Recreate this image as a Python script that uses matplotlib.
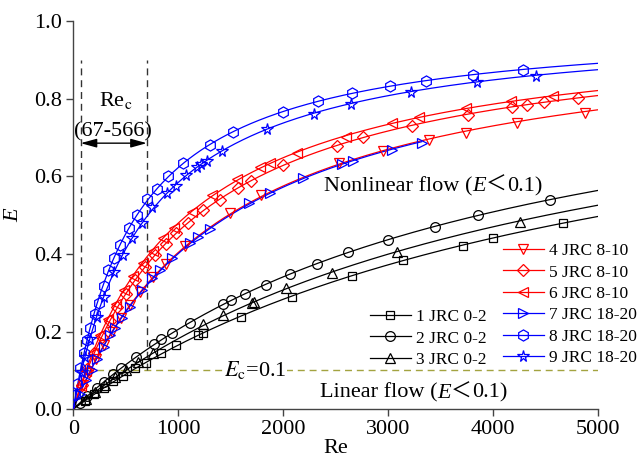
import numpy as np
import matplotlib
matplotlib.use("Agg")
import matplotlib.pyplot as plt
from matplotlib.lines import Line2D
from matplotlib.offsetbox import TextArea, HPacker, AnnotationBbox

# ---------------- measured data (Re, E) ----------------
re1 = [110, 200, 290, 380, 470, 590, 691, 834, 983, 1190, 1231, 1594, 2080, 2652, 3144, 3716, 3996, 4663]
e1 = [0.021, 0.038, 0.055, 0.071, 0.085, 0.105, 0.120, 0.145, 0.164, 0.191, 0.195, 0.238, 0.290, 0.343, 0.385, 0.421, 0.440, 0.481]

re2 = [60, 130, 221, 291, 380, 453, 593, 770, 840, 936, 1110, 1422, 1498, 1632, 1835, 2060, 2318, 2620, 3000, 3446, 3859, 4542]
e2 = [0.015, 0.033, 0.055, 0.070, 0.090, 0.105, 0.135, 0.167, 0.180, 0.195, 0.223, 0.270, 0.281, 0.296, 0.320, 0.348, 0.374, 0.404, 0.437, 0.470, 0.501, 0.539]

re3 = [120, 210, 300, 400, 500, 620, 760, 1237, 1428, 1700, 1721, 2023, 2461, 3087, 4257]
e3 = [0.026, 0.045, 0.063, 0.082, 0.100, 0.121, 0.144, 0.219, 0.243, 0.274, 0.277, 0.311, 0.350, 0.406, 0.483]

re4 = [95, 150, 215, 290, 370, 450, 540, 640, 760, 880, 1063, 1492, 1785, 2534, 2947, 3392, 3742, 4225, 4876]
e4 = [0.062, 0.094, 0.128, 0.166, 0.200, 0.234, 0.268, 0.302, 0.340, 0.374, 0.420, 0.505, 0.552, 0.634, 0.666, 0.694, 0.713, 0.737, 0.765]

re5 = [80, 135, 200, 270, 345, 420, 500, 590, 680, 780, 880, 980, 1090, 1237, 1397, 1571, 1689, 1994, 2509, 2763, 3224, 3764, 4177, 4327, 4485, 4812]
e5 = [0.063, 0.103, 0.145, 0.186, 0.226, 0.262, 0.298, 0.333, 0.366, 0.398, 0.427, 0.454, 0.480, 0.514, 0.539, 0.570, 0.589, 0.630, 0.679, 0.701, 0.730, 0.759, 0.779, 0.785, 0.793, 0.802]

re6 = [70, 120, 185, 255, 330, 405, 485, 570, 660, 755, 855, 960, 1127, 1317, 1556, 1778, 1873, 2128, 2598, 3033, 3297, 3742, 4168, 4574]
e6 = [0.060, 0.099, 0.145, 0.190, 0.232, 0.271, 0.308, 0.343, 0.377, 0.409, 0.440, 0.468, 0.509, 0.552, 0.593, 0.625, 0.634, 0.660, 0.703, 0.737, 0.753, 0.778, 0.796, 0.808]

re7 = [65, 120, 176, 224, 288, 351, 399, 462, 542, 653, 748, 828, 939, 1111, 1190, 1301, 1676, 1873, 2191, 2560, 2667, 3033, 3319]
e7 = [0.040, 0.075, 0.100, 0.128, 0.161, 0.191, 0.208, 0.234, 0.262, 0.308, 0.337, 0.359, 0.389, 0.428, 0.445, 0.464, 0.531, 0.557, 0.595, 0.632, 0.641, 0.668, 0.687]

re8 = [17, 33, 65, 97, 129, 160, 208, 240, 288, 335, 383, 446, 526, 605, 704, 793, 904, 1041, 1301, 1518, 2000, 2328, 2652, 3020, 3361, 3806, 4283]
e8 = [0.035, 0.065, 0.105, 0.145, 0.178, 0.208, 0.245, 0.273, 0.318, 0.359, 0.389, 0.423, 0.466, 0.500, 0.541, 0.567, 0.601, 0.634, 0.681, 0.716, 0.767, 0.795, 0.816, 0.834, 0.847, 0.863, 0.876]

re9 = [81, 112, 160, 224, 288, 383, 478, 558, 653, 748, 888, 977, 1075, 1174, 1220, 1270, 1420, 1842, 2293, 2645, 3217, 3843, 4406]
e9 = [0.095, 0.135, 0.180, 0.238, 0.290, 0.354, 0.397, 0.440, 0.479, 0.522, 0.557, 0.576, 0.604, 0.625, 0.632, 0.641, 0.665, 0.722, 0.761, 0.787, 0.819, 0.845, 0.860]

labels = ["1 JRC 0-2", "2 JRC 0-2", "3 JRC 0-2",
          "4 JRC 8-10", "5 JRC 8-10", "6 JRC 8-10",
          "7 JRC 18-20", "8 JRC 18-20", "9 JRC 18-20"]

x_ticks = [0, 1000, 2000, 3000, 4000, 5000]
y_ticks = [0.0, 0.2, 0.4, 0.6, 0.8, 1.0]
e_critical = 0.1
rec_lines = [70, 700]

# ---------------- styling ----------------
plt.rcParams["font.family"] = ["Liberation Serif", "DejaVu Serif"]
plt.rcParams["mathtext.fontset"] = "stix"

series = [(re1, e1), (re2, e2), (re3, e3), (re4, e4), (re5, e5),
          (re6, e6), (re7, e7), (re8, e8), (re9, e9)]
colors = ["black"] * 3 + ["#ff0000"] * 3 + ["#0000ff"] * 3
markers = ["s", "o", "^", "v", "D", "<", ">", "h", "*"]
msizes = [6, 7, 7.5, 7.5, 6, 7.5, 7.5, 8, 8.5]
# the fitted curve of series 7 stops at its last point
curve_to_end = [True] * 6 + [False] + [True] * 2


def fit_k(re, e):
    """Least-squares fit of E = Re / (Re + k)."""
    re = np.asarray(re, float)
    e = np.asarray(e, float)
    ks = np.arange(50.0, 10000.0, 1.0)
    pred = re[None, :] / (re[None, :] + ks[:, None])
    err = ((pred - e[None, :]) ** 2).sum(axis=1)
    return ks[np.argmin(err)]


fig = plt.figure(figsize=(6.41, 4.69), dpi=100)
ax = fig.add_axes([0.1144, 0.1279, 0.8186, 0.8263])

handles = []
for (re, e), c, m, ms, full in zip(series, colors, markers, msizes, curve_to_end):
    k = fit_k(re, e)
    xmax = 5000 if full else max(re)
    xs = np.linspace(0, xmax, 400)
    ax.plot(xs, xs / (xs + k), color=c, lw=0.9, zorder=3)
    ax.plot(re, e, ls="none", marker=m, ms=ms, mfc="none", mec=c, mew=0.9, zorder=4)
    handles.append(Line2D([], [], color=c, lw=0.9, marker=m, ms=ms, mfc="none", mec=c, mew=0.9))

# critical E line
ax.plot([0, 5000], [e_critical, e_critical], color="#a3a340", lw=1.0,
        ls=(0, (5, 3.5)), zorder=2)
ax.text(1730, e_critical, r"$E_\mathrm{c}$=0.1", fontsize=16, ha="center", va="center",
        zorder=5, bbox=dict(facecolor="white", edgecolor="none", pad=0.5))

# critical Reynolds number range
for xv in rec_lines:
    ax.plot([xv, xv], [e_critical, 0.90], color="#333333", lw=1.0, ls=(0, (5, 3.5)), zorder=2)
ax.annotate("", xy=(rec_lines[0], 0.686), xytext=(rec_lines[1], 0.686),
            arrowprops=dict(arrowstyle="<|-|>,head_length=0.8,head_width=0.22",
                            color="black", lw=1.0, shrinkA=0, shrinkB=0,
                            mutation_scale=12), zorder=6)
ax.text(400, 0.797, r"Re$_\mathrm{c}$", fontsize=16, ha="center", va="center")
ax.text(380, 0.716, "(67-566)", fontsize=16, ha="center", va="center")


def flow_label(prefix, x, y):
    parts = [
        TextArea(prefix, textprops=dict(fontsize=16, family=["Liberation Serif"])),
        TextArea("E", textprops=dict(fontsize=16, family=["Liberation Serif"], style="italic")),
        TextArea("＜", textprops=dict(fontsize=15, family=["Noto Sans CJK SC"])),
        TextArea("0.1)", textprops=dict(fontsize=16, family=["Liberation Serif"])),
    ]
    box = HPacker(children=parts, align="baseline", pad=0, sep=0)
    ab = AnnotationBbox(box, (x, y), xycoords="data", box_alignment=(0, 0.5),
                        frameon=False, pad=0, zorder=6)
    ax.add_artist(ab)


flow_label("Nonlinear flow (", 2390, 0.578)
flow_label("Linear flow (", 2350, 0.044)

# axes
ax.set_xlim(0, 5000)
ax.set_ylim(0, 1.0)
ax.set_xticks(x_ticks)
ax.set_yticks(y_ticks)
ax.set_yticklabels([f"{v:.1f}" for v in y_ticks])
for s in ["top", "right"]:
    ax.spines[s].set_visible(False)
for s in ["left", "bottom"]:
    ax.spines[s].set_color("#444444")
    ax.spines[s].set_linewidth(1.0)
ax.tick_params(direction="out", length=5, width=1.0, color="#444444",
               labelsize=16, pad=3)
ax.set_xlabel("Re", fontsize=16, labelpad=0)
ax.set_ylabel("E", fontsize=16, style="italic", labelpad=8)

# legends
leg_kw = dict(frameon=False, fontsize=12.5, handlelength=2.35, handletextpad=0.3,
              labelspacing=0.30, borderpad=0, borderaxespad=0, loc="upper left")
leg_right = fig.legend(handles[3:], labels[3:], bbox_to_anchor=(503 / 641, 1 - 243 / 469), **leg_kw)
leg_left = fig.legend(handles[:3], labels[:3], bbox_to_anchor=(370 / 641, 1 - 309 / 469), **leg_kw)

fig.savefig("out.png", dpi=100)
